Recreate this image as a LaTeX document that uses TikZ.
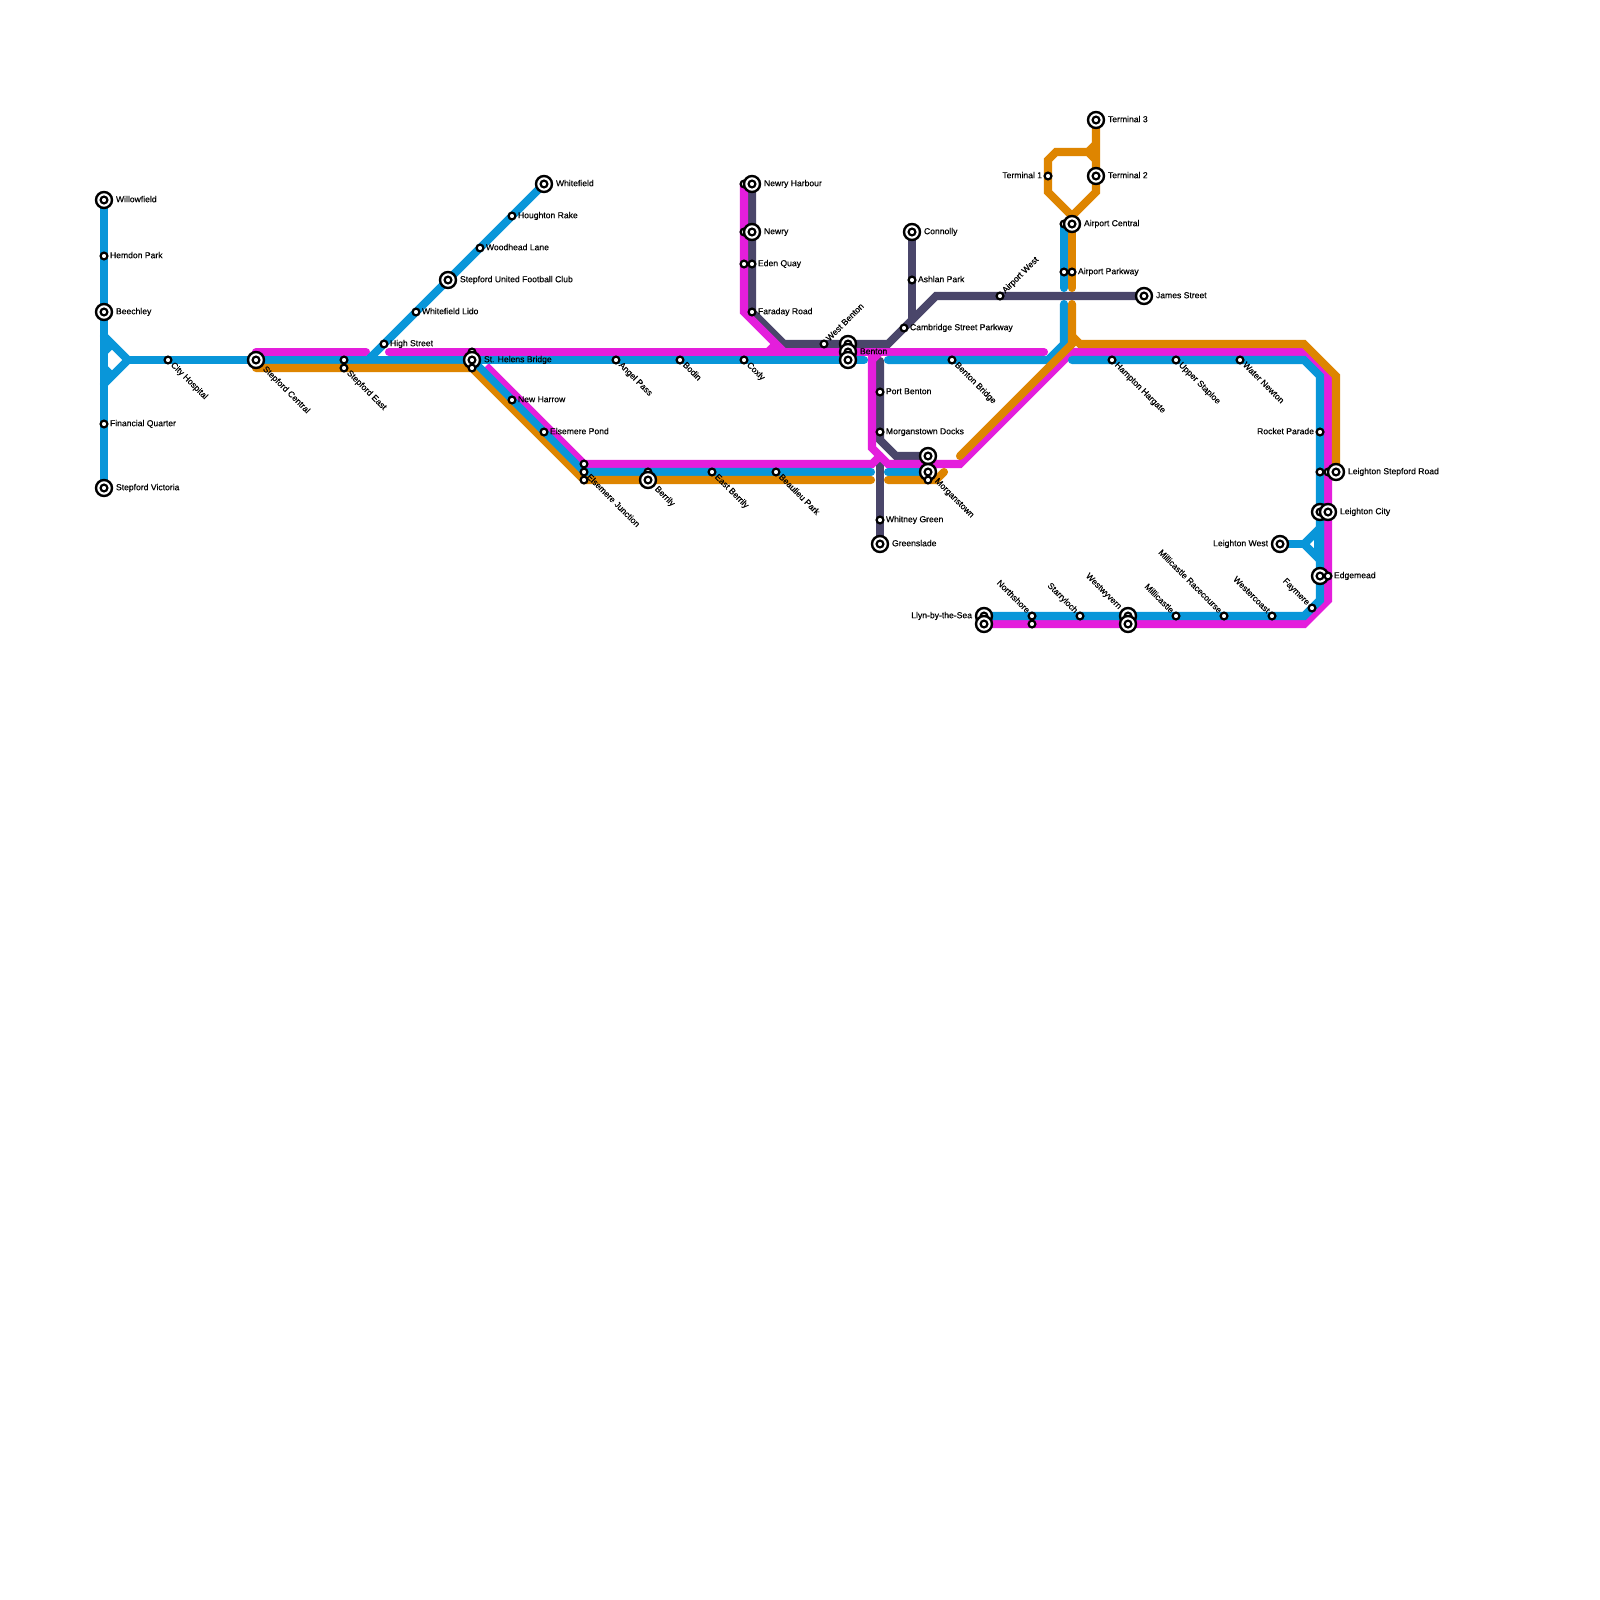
\documentclass[tikz,border=0pt]{standalone}
\usepackage{fontspec}
\setmainfont{Liberation Sans}[FakeBold=0.3]
\usetikzlibrary{backgrounds}
\definecolor{lblue}{RGB}{9,150,217}
\definecolor{lmag}{RGB}{228,30,220}
\definecolor{lorange}{RGB}{222,133,0}
\definecolor{ldark}{RGB}{74,70,106}
\pgfdeclarelayer{lines}\pgfdeclarelayer{labels}
\pgfsetlayers{lines,labels,main}
\tikzset{
  smallst/.style={circle,draw=black,fill=white,line width=2.2pt,minimum size=6.8pt,inner sep=0pt,outer sep=0pt},
  bigst/.style={circle,draw=black,fill=white,line width=2.4pt,minimum size=16pt,inner sep=0pt,outer sep=0pt},
  lab/.style={inner sep=0pt,outer sep=0pt,text height=6.4pt,text depth=2pt,font=\fontsize{8.6}{10}\selectfont,text=black},
  labE/.style={lab,anchor=west},
  labW/.style={lab,anchor=east},
  labSE/.style={lab,anchor=west,rotate=-45},
  labNE/.style={lab,anchor=west,rotate=45},
  labNW/.style={lab,anchor=east,rotate=-45},
  tube/.style={line width=8.1pt,line join=miter,miter limit=10,line cap=round},
  bluel/.style={tube,draw=lblue},
  magl/.style={tube,draw=lmag},
  orl/.style={tube,draw=lorange},
  darkl/.style={tube,draw=ldark}
}
\newcommand\stn[3]{\node[smallst] (#1) at (#2,#3) {};}
\newcommand\bigstn[3]{\node[bigst] (#1) at (#2,#3) {};\node[smallst] (#1-in) at (#2,#3) {};}
\newcommand\lab[5]{\node[#4] (#1) at (#2,#3) {#5};}
\begin{document}
\begin{tikzpicture}[x=1pt,y=-1pt]
\useasboundingbox (0,0) rectangle (1600,1600);
% stations
\bigstn{willow}{104}{200}\stn{hemdon}{104}{256}\bigstn{beech}{104}{312}\stn{finq}{104}{424}\bigstn{victoria}{104}{488}
\stn{city}{168}{360}\bigstn{central}{256}{360}\stn{eastA}{344}{360}\stn{eastB}{344}{368}
\stn{high}{384}{344}\stn{lido}{416}{312}\bigstn{sufc}{448}{280}\stn{woodhead}{480}{248}\stn{houghton}{512}{216}\bigstn{whitefield}{544}{184}
\stn{helensA}{472}{352}\bigstn{helens}{472}{360}\stn{helensB}{472}{368}
\stn{harrow}{512}{400}\stn{pond}{544}{432}
\stn{elsA}{584}{464}\stn{elsB}{584}{472}\stn{elsC}{584}{480}
\stn{angel}{616}{360}\stn{bodin}{680}{360}\stn{coxly}{744}{360}
\stn{berrilyA}{648}{472}\bigstn{berrily}{648}{480}\stn{eberrily}{712}{472}\stn{beaulieu}{776}{472}
\stn{harbourA}{744}{184}\bigstn{harbour}{752}{184}\stn{newryA}{744}{232}\bigstn{newry}{752}{232}
\stn{edenA}{744}{264}\stn{eden}{752}{264}\stn{faraday}{752}{312}\stn{wbenton}{824}{344}
\bigstn{bentonA}{848}{344}\bigstn{bentonB}{848}{352}\bigstn{benton}{848}{360}
\bigstn{connolly}{912}{232}\stn{ashlan}{912}{280}\stn{cambridge}{904}{328}\stn{awest}{1000}{296}\bigstn{james}{1144}{296}
\stn{bbridge}{952}{360}\stn{portb}{880}{392}\stn{docks}{880}{432}
\bigstn{morganA}{928}{456}\bigstn{morgan}{928}{472}\stn{morganB}{928}{480}
\stn{whitney}{880}{520}\bigstn{greenslade}{880}{544}
\bigstn{tthree}{1096}{120}\bigstn{ttwo}{1096}{176}\stn{tone}{1048}{176}
\stn{acentralA}{1064}{224}\bigstn{acentral}{1072}{224}\stn{aparkA}{1064}{272}\stn{apark}{1072}{272}
\stn{hampton}{1112}{360}\stn{upper}{1176}{360}\stn{water}{1240}{360}
\stn{rocket}{1320}{432}\stn{lsrA}{1320}{472}\stn{lsrB}{1328}{472}\bigstn{lsr}{1336}{472}
\bigstn{lcityA}{1320}{512}\bigstn{lcity}{1328}{512}\bigstn{lwest}{1280}{544}
\bigstn{edgeA}{1320}{576}\stn{edge}{1328}{576}\stn{faymere}{1312}{608}
\stn{westercoast}{1272}{616}\stn{race}{1224}{616}\stn{millicastle}{1176}{616}
\bigstn{wyvernA}{1128}{616}\bigstn{wyvern}{1128}{624}\stn{starry}{1080}{616}
\stn{northA}{1032}{616}\stn{northB}{1032}{624}\bigstn{llynA}{984}{616}\bigstn{llyn}{984}{624}
% labels
\begin{pgfonlayer}{labels}
\lab{t1}{116}{200}{labE}{Willowfield}
\lab{t2}{110}{256}{labE}{Hemdon Park}
\lab{t3}{116}{312}{labE}{Beechley}
\lab{t4}{110}{424}{labE}{Financial Quarter}
\lab{t5}{116}{488}{labE}{Stepford Victoria}
\lab{t6}{172}{364}{labSE}{City Hospital}
\lab{t7}{264}{368}{labSE}{Stepford Central}
\lab{t8}{348}{372}{labSE}{Stepford East}
\lab{t9}{390}{344}{labE}{High Street}
\lab{t10}{422}{312}{labE}{Whitefield Lido}
\lab{t11}{460}{280}{labE}{Stepford United Football Club}
\lab{t12}{486}{248}{labE}{Woodhead Lane}
\lab{t13}{518}{216}{labE}{Houghton Rake}
\lab{t14}{556}{184}{labE}{Whitefield}
\lab{t15}{484}{360}{labE}{St. Helens Bridge}
\lab{t16}{518}{400}{labE}{New Harrow}
\lab{t17}{550}{432}{labE}{Elsemere Pond}
\lab{t18}{588}{476}{labSE}{Elsemere Junction}
\lab{t19}{656}{488}{labSE}{Berrily}
\lab{t20}{620}{364}{labSE}{Angel Pass}
\lab{t21}{684}{364}{labSE}{Bodin}
\lab{t22}{748}{364}{labSE}{Coxly}
\lab{t23}{716}{476}{labSE}{East Berrily}
\lab{t24}{780}{476}{labSE}{Beaulieu Park}
\lab{t25}{764}{184}{labE}{Newry Harbour}
\lab{t26}{764}{232}{labE}{Newry}
\lab{t27}{758}{264}{labE}{Eden Quay}
\lab{t28}{758}{312}{labE}{Faraday Road}
\lab{t29}{828}{340}{labNE}{West Benton}
\lab{t30}{860}{352}{labE}{Benton}
\lab{t31}{924}{232}{labE}{Connolly}
\lab{t32}{918}{280}{labE}{Ashlan Park}
\lab{t33}{910}{328}{labE}{Cambridge Street Parkway}
\lab{t34}{1004}{292}{labNE}{Airport West}
\lab{t35}{1156}{296}{labE}{James Street}
\lab{t36}{956}{364}{labSE}{Benton Bridge}
\lab{t37}{886}{392}{labE}{Port Benton}
\lab{t38}{886}{432}{labE}{Morganstown Docks}
\lab{t39}{936}{480}{labSE}{Morganstown}
\lab{t40}{886}{520}{labE}{Whitney Green}
\lab{t41}{892}{544}{labE}{Greenslade}
\lab{t42}{1108}{120}{labE}{Terminal 3}
\lab{t43}{1108}{176}{labE}{Terminal 2}
\lab{t44}{1042}{176}{labW}{Terminal 1}
\lab{t45}{1084}{224}{labE}{Airport Central}
\lab{t46}{1078}{272}{labE}{Airport Parkway}
\lab{t47}{1116}{364}{labSE}{Hampton Hargate}
\lab{t48}{1180}{364}{labSE}{Upper Staploe}
\lab{t49}{1244}{364}{labSE}{Water Newton}
\lab{t50}{1314}{432}{labW}{Rocket Parade}
\lab{t51}{1348}{472}{labE}{Leighton Stepford Road}
\lab{t52}{1340}{512}{labE}{Leighton City}
\lab{t53}{1268}{544}{labW}{Leighton West}
\lab{t54}{1334}{576}{labE}{Edgemead}
\lab{t55}{1308}{604}{labNW}{Faymere}
\lab{t56}{1268}{612}{labNW}{Westercoast}
\lab{t57}{1220}{612}{labNW}{Millicastle Racecourse}
\lab{t58}{1172}{612}{labNW}{Millicastle}
\lab{t59}{1120}{608}{labNW}{Westwyvern}
\lab{t60}{1076}{612}{labNW}{Starryloch}
\lab{t61}{1028}{612}{labNW}{Northshore}
\lab{t62}{972}{616}{labW}{Llyn-by-the-Sea}
\end{pgfonlayer}
% lines
\begin{pgfonlayer}{lines}
\fill[white] (0,0) rectangle (1600,1600);
% waypoints
\coordinate (jL) at (128,360);\coordinate (jLa) at (104,336);\coordinate (jLb) at (104,384);
\coordinate (jLc) at (104,352);\coordinate (jLd) at (112,344);\coordinate (jLe) at (104,368);\coordinate (jLf) at (112,376);
\coordinate (bfork) at (368,360);
\coordinate (bA) at (864,360);\coordinate (bB) at (888,360);\coordinate (bC) at (1048,360);\coordinate (bD) at (1064,344);\coordinate (bE) at (1064,304);
\coordinate (bF) at (1064,288);\coordinate (bG) at (1072,360);\coordinate (bH) at (1304,360);\coordinate (bI) at (1320,376);\coordinate (bJ) at (1320,600);\coordinate (bK) at (1304,616);
\coordinate (bL) at (871,472);\coordinate (bM) at (888,472);
\coordinate (wA) at (1304,544);\coordinate (wB) at (1320,528);\coordinate (wC) at (1320,560);\coordinate (wD) at (1317,534);\coordinate (wE) at (1317,554);
\coordinate (mA) at (256,352);\coordinate (mB) at (366,352);\coordinate (mC) at (389,352);\coordinate (mD) at (1044,352);
\coordinate (mE) at (486,366);\coordinate (mF) at (872,464);\coordinate (mG) at (880,456);
\coordinate (mH) at (744,312);\coordinate (mI) at (784,352);\coordinate (mJ) at (768,352);\coordinate (mK) at (776,344);
\coordinate (mL) at (872,352);\coordinate (mM) at (872,448);\coordinate (mN) at (888,464);\coordinate (mO) at (960,464);\coordinate (mP) at (1072,352);
\coordinate (mQ) at (1304,352);\coordinate (mR) at (1328,376);\coordinate (mS) at (1328,600);\coordinate (mT) at (1304,624);
\coordinate (mU) at (872,360);\coordinate (mV) at (880,352);
\coordinate (oA) at (256,368);\coordinate (oB) at (871,480);\coordinate (oC) at (888,480);\coordinate (oD) at (936,480);\coordinate (oE) at (944,472);
\coordinate (oF) at (1072,288);\coordinate (oG) at (1072,304);\coordinate (oH) at (1072,344);\coordinate (oI) at (960,456);
\coordinate (oJ) at (1072,336);\coordinate (oK) at (1080,344);\coordinate (oL) at (1304,344);\coordinate (oM) at (1336,376);
\coordinate (oN) at (1096,192);\coordinate (oO) at (1072,216);\coordinate (oP) at (1048,192);\coordinate (oQ) at (1048,160);\coordinate (oR) at (1056,152);\coordinate (oS) at (1088,152);\coordinate (oT) at (1096,160);\coordinate (oU) at (1096,144);
\coordinate (dA) at (752,312);\coordinate (dB) at (784,344);\coordinate (dC) at (888,344);\coordinate (dD) at (936,296);
\coordinate (dE) at (912,320);\coordinate (dF) at (880,361);\coordinate (dG) at (880,440);\coordinate (dH) at (896,456);\coordinate (dI) at (880,456);
% dark
\draw[darkl] (harbour.center) -- (dA) -- (dB) -- (dC) -- (dD) -- (james.center);
\draw[darkl] (connolly.center) -- (dE);
\draw[darkl] (dF) -- (dG) -- (dH) -- (morganA.center);
\draw[darkl] (dI) -- (greenslade.center);
% magenta
\draw[magl] (mA) -- (mB);
\draw[magl] (mC) -- (mD);
\draw[magl,line cap=butt] (mE) -- (elsA.center) -- (mF) -- (mG);
\draw[magl] (harbourA.center) -- (mH) -- (mI);
\draw[magl,line cap=butt] (mJ) -- (mK);
\draw[magl,line cap=butt] (mU) -- (mV);
\draw[magl,line cap=butt] (mL) -- (mM) -- (mN) -- (mO) -- (mP) -- (mQ) -- (mR) -- (mS) -- (mT) -- (llyn.center);
% blue
\draw[bluel] (willow.center) -- (victoria.center);
\draw[bluel] (jLa) -- (jL) -- (jLb);
\draw[bluel,line cap=butt] (jLc) -- (jLd);
\draw[bluel,line cap=butt] (jLe) -- (jLf);
\draw[bluel] (jL) -- (bA);
\draw[bluel] (bfork) -- (whitefield.center);
\draw[bluel] (helens.center) -- (elsB.center) -- (bL);
\draw[bluel] (bM) -- (morgan.center);
\draw[bluel] (bB) -- (bC) -- (bD) -- (bE);
\draw[bluel] (bF) -- (acentralA.center);
\draw[bluel] (bG) -- (bH) -- (bI) -- (bJ) -- (bK) -- (llynA.center);
\draw[bluel] (lwest.center) -- (wA);
\draw[bluel,line join=miter] (wA) -- (wB) -- (wC) -- cycle;
\draw[bluel,line cap=butt,line width=7pt] (wD) -- (wE);
% orange
\draw[orl] (oA) -- (helensB.center) -- (elsC.center) -- (oB);
\draw[orl] (oC) -- (oD) -- (oE);
\draw[orl] (tthree.center) -- (oN) -- (oO) -- (oP) -- (oQ) -- (oR) -- (oS) -- (oT);
\draw[orl,line cap=butt] (oS) -- (oU);
\draw[orl] (oO) -- (acentral.center) -- (oF);
\draw[orl] (oG) -- (oH) -- (oI);
\draw[orl,line cap=butt] (oJ) -- (oK) -- (oL) -- (oM) -- (lsr.center);
% blue band on the shared diagonal
\draw[bluel,line cap=butt,line width=6.8pt] (helens.center) -- (elsB.center);
\end{pgfonlayer}
\end{tikzpicture}
\end{document}
